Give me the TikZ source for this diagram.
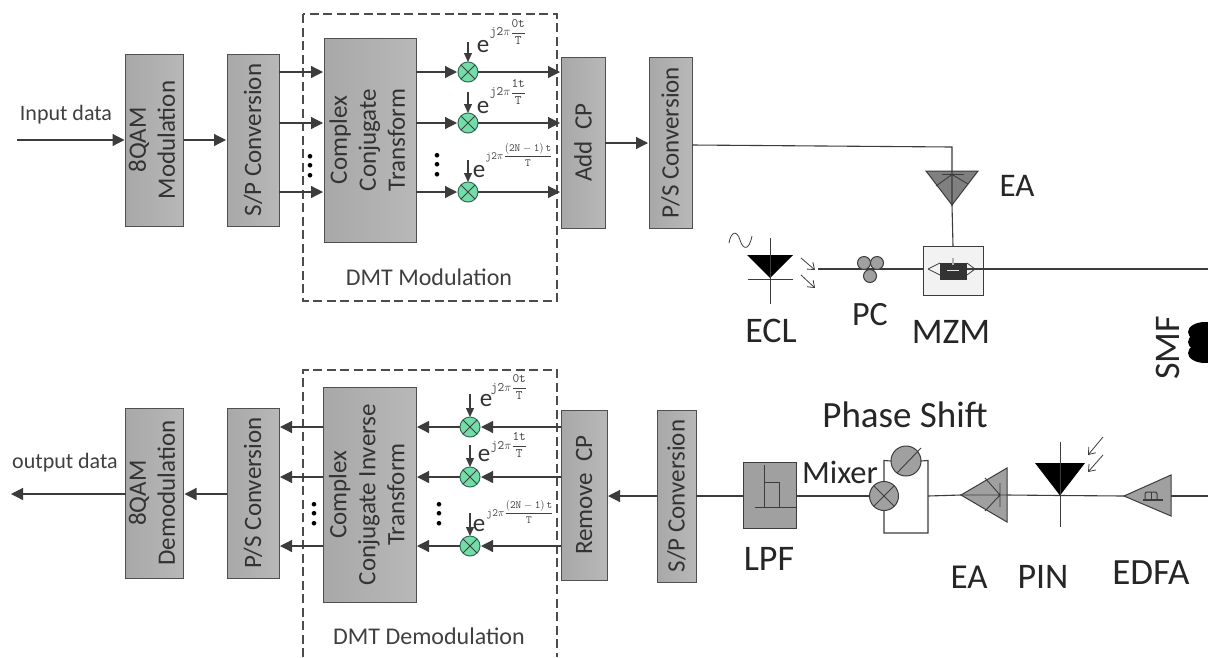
\documentclass[tikz,border=0pt]{standalone}
\usepackage{fontspec}
\setmainfont{Carlito}
\usetikzlibrary{arrows.meta,calc}
\definecolor{boxl}{HTML}{A8A8A8}
\definecolor{boxr}{HTML}{B8B8B8}
\definecolor{boxd}{HTML}{505050}
\definecolor{wire}{HTML}{3C3C3C}
\definecolor{multg}{HTML}{74DCA8}
\definecolor{multd}{HTML}{2F6F5A}
\definecolor{devg}{HTML}{A0A0A0}
\tikzset{
  x=1pt,y=-1pt,
  pbox/.style={draw=boxd,line width=1pt,left color=boxl,right color=boxr,inner sep=0pt,outer sep=0pt,align=center,font=\fontsize{25}{29}\selectfont,text=black!80},
  sig/.style={draw=wire,line width=1.2pt,-{Triangle[length=12pt,width=12pt]},shorten >=1pt},
  sigs/.style={draw=wire,line width=1.2pt,-{Triangle[length=9pt,width=8pt]}},
  wirel/.style={draw=wire,line width=1.1pt},
  mult/.style={circle,draw=multd,fill=multg,line width=1pt,minimum size=20pt,inner sep=0pt,outer sep=0pt},
  gmult/.style={circle,draw=wire,fill=devg,line width=1pt,inner sep=0pt,outer sep=0pt},
  dashbox/.style={draw=black!70,line width=1.1pt,dash pattern=on 9pt off 4.5pt},
  lab/.style={font=\fontsize{24}{26}\selectfont,text=black!75,inner sep=0pt},
  iolab/.style={font=\fontsize{22}{24}\selectfont,text=black!75,inner sep=0pt},
  biglab/.style={font=\fontsize{36}{38}\selectfont,text=black!85,inner sep=0pt},
  elet/.style={font=\fontsize{25}{27}\selectfont,inner sep=0pt,text=black!80},
  expo/.style={font=\fontsize{13}{14}\selectfont,inner sep=0pt,text=black!75},
  expol/.style={font=\fontsize{11}{12}\selectfont,inner sep=0pt,text=black!75},
  dots/.style={rotate=90,font=\fontsize{38}{38}\selectfont,inner sep=0pt},
  dev/.style={draw=wire,line width=1pt,fill=devg},
  thinarr/.style={draw=wire,line width=0.8pt,-{Straight Barb[length=6pt,width=9pt]}},
}
\newcommand{\crossin}[1]{\draw[line width=1pt,draw=black!75] (#1.45)--(#1.225) (#1.135)--(#1.315);}
\newcommand{\expz}[1]{$\displaystyle \mathtt{j2}\pi\frac{\mathtt{#1}}{\mathtt{T}}$}
\begin{document}
\begin{tikzpicture}
\useasboundingbox (0,0) rectangle (1208,657);
\begin{scope}
\clip (0,0) rectangle (1208,657);
\fill[white] (0,0) rectangle (1208,657);

% ---- dashed frames
\draw[dashbox] (303,14) rectangle (557,301);
\draw[dashbox] (303,657) -- (303,370) -- (557,370) -- (557,657);

% ---- top row blocks
\node[pbox,minimum width=55pt,minimum height=172pt] (qam) at (154.5,140) {\rotatebox{90}{\begin{tabular}{@{}c@{}}8QAM\\Modulation\end{tabular}}};
\node[pbox,minimum width=52pt,minimum height=172pt] (sp) at (253,140) {\rotatebox{90}{S/P Conversion}};
\node[pbox,minimum width=92pt,minimum height=204pt] (cct) at (370,140) {\rotatebox{90}{\begin{tabular}{@{}c@{}}Complex\\Conjugate\\Transform\end{tabular}}};
\node[pbox,minimum width=44pt,minimum height=171pt] (acp) at (583,142.5) {\rotatebox{90}{Add\hspace{0.45em}CP}};
\node[pbox,minimum width=43pt,minimum height=171pt] (ps) at (670.5,142.5) {\rotatebox{90}{P/S Conversion}};

\node[mult] (m1) at (468,72) {}; \crossin{m1}
\node[mult] (m2) at (468,123) {}; \crossin{m2}
\node[mult] (m3) at (468,192) {}; \crossin{m3}

\coordinate (in) at (17,140);
\coordinate (t1) at (468,42);
\coordinate (t2) at (468,92);
\coordinate (t3) at (468,160);
\draw[sig] (in) -- (in -| qam.west);
\draw[sig] (qam.east |- 0,140) -- (sp.west |- 0,140);
\foreach \y in {72,123,192} \draw[sig] (sp.east |- 0,\y) -- (cct.west |- 0,\y);
\foreach \m in {m1,m2,m3} {
  \draw[sig] (cct.east |- \m) -- (\m.west);
  \draw[sig] (\m.east) -- (acp.west |- \m);
}
\draw[sigs] (t1) -- (m1.north);
\draw[sigs] (t2) -- (m2.north);
\draw[sigs] (t3) -- (m3.north);
\draw[sig] (acp.east |- 0,143) -- (ps.west |- 0,143);

\node[elet] (e1) at (483,47) {e};
\node[elet] (e2) at (483,108) {e};
\node[elet] (e3) at (479,172) {e};
\node[expo] (x1) at (508,32) {\expz{0t}};
\node[expo] (x2) at (508,92) {\expz{1t}};
\node[expol] (x3) at (519,155) {\expz{(2N-1)\,t}};
\node[dots] (d1) at (310,166) {...};
\node[dots] (d2) at (437,165) {...};
\node[iolab] (inl) at (66,115) {Input data};
\node[lab] (dm) at (429,277) {DMT Modulation};

% ---- EA (top), MZM, ECL, PC
\coordinate (eaB) at (952,205);
\coordinate (bend) at (952,147);
\draw[dev,fill=black!50] (926,171) -- (978,171) -- (eaB) -- cycle;
\draw[wirel] (ps.east |- 0,145) -- (bend) -- (eaB);
\draw[wire,line width=0.9pt] (942,174.5) -- (964,174.5) (952,174.5) -- (936,186) (952,174.5) -- (968,184);
\node[draw=wire,line width=1pt,fill=black!5,minimum width=60pt,minimum height=49pt,inner sep=0pt,outer sep=0pt] (mzm) at (953,270.5) {};
\draw[wirel] (eaB) -- (mzm.north);
\draw[wire,line width=0.8pt] (928,269) -- (940,263) (928,269) -- (940,275) (967,263) -- (975,269) -- (967,275);
\fill[black!80] (940,263) rectangle (967,280);
\fill[black!30] (952,258) rectangle (954,265);
\fill[black!10] (947,269.5) rectangle (959,271);
\coordinate (fibre) at (1208,269);
\draw[wirel] (967,269) -- (fibre);

\coordinate (eclO) at (818,269);
\draw[wirel] (eclO) -- (mzm.west |- eclO);
\fill[black] (747,255) -- (793,255) -- (770,278) -- cycle;
\draw[wire,line width=0.8pt] (770,238) -- (770,304) (748,279.5) -- (793,279.5);
\draw[wire,line width=0.8pt] (729,243) .. controls (731,231) and (737,230) .. (740,240) .. controls (743,250) and (749,251) .. (752,236);
\draw[thinarr] (801,258) -- (815,270);
\draw[thinarr] (801,275) -- (815,288);
\node[gmult,minimum size=13pt] (pc1) at (864,263) {};
\node[gmult,minimum size=13pt] (pc2) at (877,263) {};
\node[gmult,minimum size=13pt] (pc3) at (870,276) {};

\node[biglab,font=\fontsize{33}{35}\selectfont] (lea) at (1017,186) {EA};
\node[biglab] (lecl) at (771,331) {ECL};
\node[biglab,font=\fontsize{34}{36}\selectfont] (lpc) at (870,315) {PC};
\node[biglab] (lmzm) at (951,332) {MZM};
\node[biglab,rotate=90] (lsmf) at (1168,348) {SMF};

% fibre coil
\fill[black] (1205,332) ellipse [x radius=17, y radius=10];
\fill[black] (1205,342) ellipse [x radius=17, y radius=10];
\fill[black] (1205,353) ellipse [x radius=17, y radius=10];

% ---- bottom row blocks
\node[pbox,minimum width=55pt,minimum height=170pt] (dq) at (154.5,493) {\rotatebox{90}{\begin{tabular}{@{}c@{}}8QAM\\Demodulation\end{tabular}}};
\node[pbox,minimum width=52pt,minimum height=170pt] (dps) at (253,493) {\rotatebox{90}{P/S Conversion}};
\node[pbox,minimum width=93pt,minimum height=215pt] (ict) at (369.5,494.5) {\rotatebox{90}{\begin{tabular}{@{}c@{}}Complex\\Conjugate Inverse\\Transform\end{tabular}}};
\node[pbox,minimum width=46pt,minimum height=170pt] (rcp) at (584,495) {\rotatebox{90}{Remove\hspace{0.45em}CP}};
\node[pbox,minimum width=39pt,minimum height=172pt] (dsp) at (676.5,496) {\rotatebox{90}{S/P Conversion}};

\node[mult] (n1) at (470,427) {}; \crossin{n1}
\node[mult] (n2) at (470,477) {}; \crossin{n2}
\node[mult] (n3) at (470,546) {}; \crossin{n3}
\coordinate (u1) at (470,394);
\coordinate (u2) at (470,445);
\coordinate (u3) at (470,513);
\foreach \n in {n1,n2,n3} {
  \draw[sig] (rcp.west |- \n) -- (\n.east);
  \draw[sig] (\n.west) -- (ict.east |- \n);
  \draw[sig] (ict.west |- \n) -- (dps.east |- \n);
}
\draw[sigs] (u1) -- (n1.north);
\draw[sigs] (u2) -- (n2.north);
\draw[sigs] (u3) -- (n3.north);
\draw[sig] (dps.west |- 0,494) -- (dq.east |- 0,494);
\coordinate (out) at (10,494);
\draw[sig] (dq.west |- out) -- (out);
\draw[sig] (dsp.west |- 0,496) -- (rcp.east |- 0,496);

\node[elet] (f1) at (486,401) {e};
\node[elet] (f2) at (484,456) {e};
\node[elet] (f3) at (479,526) {e};
\node[expo] (y1) at (509,387) {\expz{0t}};
\node[expo] (y2) at (509,445) {\expz{1t}};
\node[expol] (y3) at (520,512) {\expz{(2N-1)\,t}};
\node[dots] (d3) at (314,514) {...};
\node[dots] (d4) at (439,514) {...};
\node[iolab] (outl) at (65,463) {output data};
\node[lab] (dd) at (429,636) {DMT Demodulation};

% ---- LPF
\node[draw=wire,line width=1pt,fill=devg,minimum width=53pt,minimum height=66pt,inner sep=0pt,outer sep=0pt] (lpf) at (769.5,495) {};
\draw[wire,line width=0.9pt] (764,465) -- (764,507) (755,507) -- (796,507) (764,482) -- (779,482) -- (779,507);
\draw[wirel] (lpf.west |- dsp) -- (dsp.east);

% ---- mixer + phase shift
\node[gmult,minimum size=29pt] (mx) at (884,496) {}; \crossin{mx}
\node[gmult,minimum size=30pt] (pz) at (906,461) {};
\draw[wire,line width=0.9pt] (897,473) -- (921,448);
\draw[wirel] (lpf.east |- mx) -- (mx.west);
\draw[wirel] (mx.north) -- (884,460.5) -- (pz.west);
\draw[wirel] (pz.east) -- (928,460.5) -- (928,533) -- (884,533) -- (mx.south);

% ---- EA (bottom)
\coordinate (ea2L) at (961,495);
\coordinate (ea2R) at (1007,495);
\draw[dev] (ea2L) -- (1007,468) -- (1007,522) -- cycle;
\draw[wirel] (928,496) -- (ea2L);
\draw[wire,line width=0.9pt] (1000,483) -- (1000,507) (1000,495) -- (985,478) (1000,495) -- (985,511) (ea2L) -- (ea2R);

% ---- PIN
\coordinate (pinC) at (1060,495.5);
\draw[wirel] (ea2R) -- (pinC);
\fill[black] (1035,463) -- (1085,463) -- (pinC) -- cycle;
\draw[wire,line width=0.8pt] (1060,442) -- (1060,527);
\draw[thinarr] (1103,437) -- (1088,455);
\draw[thinarr] (1103,455) -- (1088,472);

% ---- EDFA
\coordinate (edL) at (1124,496);
\coordinate (edR) at (1171,496);
\coordinate (fin) at (1208,496);
\draw[dev] (edL) -- (1171,475) -- (1171,516) -- cycle;
\draw[wirel] (pinC) -- (edL);
\draw[wirel] (edR) -- (fin);
\draw[wire,line width=1pt,rounded corners=2pt] (1145,499) -- (1145,492) -- (1157,492) -- (1157,499);
\draw[wire,line width=1.1pt] (1143,500) -- (1163,500);
\draw[wire,line width=1pt] (1151,492) -- (1151,499);

\node[biglab,font=\fontsize{37}{39}\selectfont] (lps) at (905,415) {Phase Shift};
\node[biglab,font=\fontsize{32.5}{34}\selectfont] (lmix) at (840,472) {Mixer};
\node[biglab] (llpf) at (769,559) {LPF};
\node[biglab,font=\fontsize{35}{37}\selectfont] (lea2) at (969,577) {EA};
\node[biglab] (lpin) at (1043,577) {PIN};
\node[biglab,font=\fontsize{37}{39}\selectfont] (ledfa) at (1151,573) {EDFA};
\end{scope}
\end{tikzpicture}
\end{document}
